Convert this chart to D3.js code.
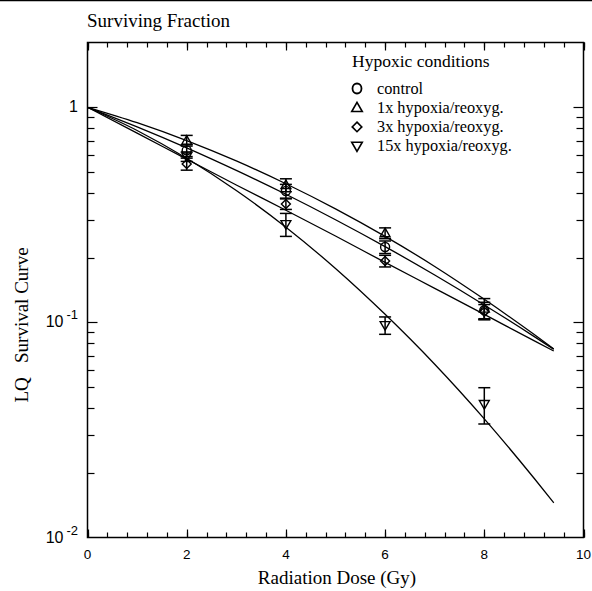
<!DOCTYPE html>
<html><head><meta charset="utf-8">
<script src="https://cdn.jsdelivr.net/npm/d3@7"></script>
<style>
html,body{margin:0;padding:0;background:#fff;}
svg{display:block;}
</style></head>
<body>
<script>
// ---- data ----
const seriesNames = ["control", "1x hypoxia/reoxyg.", "3x hypoxia/reoxyg.", "15x hypoxia/reoxyg."];
const seriesSymbols = ["circle", "triangle", "diamond", "invtriangle"];
const doses = [2, 4, 6, 8];
const controlValues = [0.63, 0.408, 0.224, 0.114];
const controlErrors = [0.04, 0.03, 0.015, 0.01];
const hyp1Values = [0.70, 0.435, 0.26, 0.116];
const hyp1Errors = [0.04, 0.03, 0.015, 0.013];
const hyp3Values = [0.545, 0.355, 0.193, 0.112];
const hyp3Errors = [0.035, 0.02, 0.012, 0.009];
const hyp15Values = [0.59, 0.286, 0.097, 0.0417];
const hyp15Errors = [0.03, 0.035, 0.009, 0.008];

const curveDoses = [0, 1, 2, 3, 4, 5, 6, 7, 8, 9, 9.4];
const controlCurve = [1, 0.811, 0.648, 0.509, 0.394, 0.300, 0.225, 0.166, 0.1205, 0.0861, 0.0750];
const hyp1Curve = [1, 0.848, 0.700, 0.563, 0.441, 0.337, 0.251, 0.182, 0.128, 0.088, 0.0753];
const hyp3Curve = [1, 0.758, 0.574, 0.435, 0.332, 0.252, 0.190, 0.144, 0.109, 0.0822, 0.0736];
const hyp15Curve = [1, 0.780, 0.579, 0.410, 0.277, 0.178, 0.109, 0.0639, 0.0356, 0.0189, 0.0145];

const xTickValues = [0, 2, 4, 6, 8, 10];
const xTickLabels = ["0", "2", "4", "6", "8", "10"];
const yTickValues = [1, 0.1, 0.01];
const yTickBase = ["1", "10", "10"];
const yTickExp = ["", "-1", "-2"];

const titleText = "Surviving Fraction";
const xLabel = "Radiation Dose (Gy)";
const yLabel = "LQ\u00a0\u00a0\u00a0Survival Curve";
const legendTitle = "Hypoxic conditions";

// ---- chart ----
const W = 592, H = 591;
const svg = d3.select("body").append("svg").attr("width", W).attr("height", H);
const L = 87.5, R = 583.5, T = 42.5, B = 537.5;
const x = d3.scaleLinear().domain([0, 10]).range([L, R]);
const y = d3.scaleLog().domain([0.01, 2]).range([B, T]);

const serif = "'Liberation Serif','Times New Roman',serif";
const sans = "'Liberation Sans',Arial,Helvetica,sans-serif";

// top border line
svg.append("line").attr("x1", 0).attr("x2", W).attr("y1", 0.5).attr("y2", 0.5)
  .attr("stroke", "#000").attr("stroke-width", 1.5);

// frame
svg.append("rect").attr("x", L).attr("y", T).attr("width", R - L).attr("height", B - T)
  .attr("fill", "none").attr("stroke", "#000").attr("stroke-width", 1.5);

const ax = svg.append("g").attr("stroke", "#000").attr("stroke-width", 1.2);
// x ticks (inward) every 0.4, majors at even numbers
const xMinor = d3.range(0, 10.001, 0.4).map(v => +v.toFixed(2));
xMinor.forEach(v => {
  const px = Math.round(x(v)) + 0.5;
  ax.append("line").attr("x1", px).attr("x2", px).attr("y1", B).attr("y2", B - 5);
  ax.append("line").attr("x1", px).attr("x2", px).attr("y1", T).attr("y2", T + 5);
});
xTickValues.forEach(v => {
  const px = Math.round(x(v)) + 0.5;
  ax.append("line").attr("x1", px).attr("x2", px).attr("y1", B).attr("y2", B - 8);
  ax.append("line").attr("x1", px).attr("x2", px).attr("y1", T).attr("y2", T + 8);
});
// y ticks
const yMinor = y.ticks().filter(v => v > 0.01 && v < 2);
yMinor.forEach(v => {
  const py = Math.round(y(v)) + 0.5;
  const major = yTickValues.some(t => Math.abs(t - v) < 1e-9);
  const len = major ? 10 : 7;
  ax.append("line").attr("x1", L).attr("x2", L + len).attr("y1", py).attr("y2", py);
  ax.append("line").attr("x1", R).attr("x2", R - len).attr("y1", py).attr("y2", py);
});

// x tick labels
xTickValues.forEach((v, i) => {
  svg.append("text").attr("x", x(v)).attr("y", 559).attr("text-anchor", "middle")
    .attr("font-family", sans).attr("font-size", 13.5).text(xTickLabels[i]);
});
// y tick labels
yTickValues.forEach((v, i) => {
  const t = svg.append("text").attr("x", 78).attr("y", y(v) + 5).attr("text-anchor", "end")
    .attr("font-family", sans).attr("font-size", 16);
  t.append("tspan").text(yTickBase[i]);
  if (yTickExp[i]) {
    t.append("tspan").attr("dx", 3).attr("dy", -8).attr("font-size", 13).text(yTickExp[i]);
  }
});

// titles
svg.append("text").attr("x", 87).attr("y", 27).attr("font-family", serif).attr("font-size", 19).text(titleText);
svg.append("text").attr("x", 337).attr("y", 584).attr("text-anchor", "middle")
  .attr("font-family", serif).attr("font-size", 19).text(xLabel);
svg.append("text").attr("transform", "translate(28," + 325 + ") rotate(-90)").attr("text-anchor", "middle")
  .attr("font-family", serif).attr("font-size", 19).text(yLabel);

// curves
const curves = [controlCurve, hyp1Curve, hyp3Curve, hyp15Curve];
const line = d3.line().x((d, i) => x(curveDoses[i])).y(d => y(d)).curve(d3.curveMonotoneX);
curves.forEach(c => {
  svg.append("path").attr("d", line(c)).attr("fill", "none").attr("stroke", "#000").attr("stroke-width", 1.3);
});

// symbols
function symbolPath(type, s) {
  if (type === "circle") return d3.symbol().type(d3.symbolCircle).size(Math.PI * s * s)();
  if (type === "triangle") return `M0,${-s * 1.1}L${s * 1.1},${s * 0.8}L${-s * 1.1},${s * 0.8}Z`;
  if (type === "invtriangle") return `M0,${s * 1.1}L${s * 1.1},${-s * 0.8}L${-s * 1.1},${-s * 0.8}Z`;
  if (type === "diamond") return `M0,${-s}L${s},0L0,${s}L${-s},0Z`;
}

const values = [controlValues, hyp1Values, hyp3Values, hyp15Values];
const errors = [controlErrors, hyp1Errors, hyp3Errors, hyp15Errors];
const g = svg.append("g");
values.forEach((vals, si) => {
  vals.forEach((v, i) => {
    const px = x(doses[i]);
    const hi = y(v + errors[si][i]), lo = y(v - errors[si][i]);
    g.append("line").attr("x1", px).attr("x2", px).attr("y1", hi).attr("y2", lo)
      .attr("stroke", "#000").attr("stroke-width", 1.5);
    [hi, lo].forEach(yy => g.append("line").attr("x1", px - 6).attr("x2", px + 6).attr("y1", yy).attr("y2", yy)
      .attr("stroke", "#000").attr("stroke-width", 1.5));
    g.append("path").attr("d", symbolPath(seriesSymbols[si], 4.5))
      .attr("transform", `translate(${px},${y(v)})`)
      .attr("fill", "none").attr("stroke", "#000").attr("stroke-width", 1.4);
  });
});

// legend
const lx = 352, ly = 67;
svg.append("text").attr("x", lx).attr("y", ly).attr("font-family", serif).attr("font-size", 17.5).text(legendTitle);
seriesNames.forEach((n, i) => {
  const cy = 88.5 + i * 19.2;
  const sym = seriesSymbols[i];
  if (sym === "circle") {
    svg.append("ellipse").attr("cx", 357).attr("cy", cy).attr("rx", 4.5).attr("ry", 5)
      .attr("fill", "none").attr("stroke", "#000").attr("stroke-width", 1.8);
  } else {
    svg.append("path").attr("d", symbolPath(sym, 4.8)).attr("transform", `translate(357,${cy})`)
      .attr("fill", "none").attr("stroke", "#000").attr("stroke-width", 1.6);
  }
  svg.append("text").attr("x", 377).attr("y", cy + 5).attr("font-family", serif).attr("font-size", 16.3).text(n);
});
</script>
</body></html>
